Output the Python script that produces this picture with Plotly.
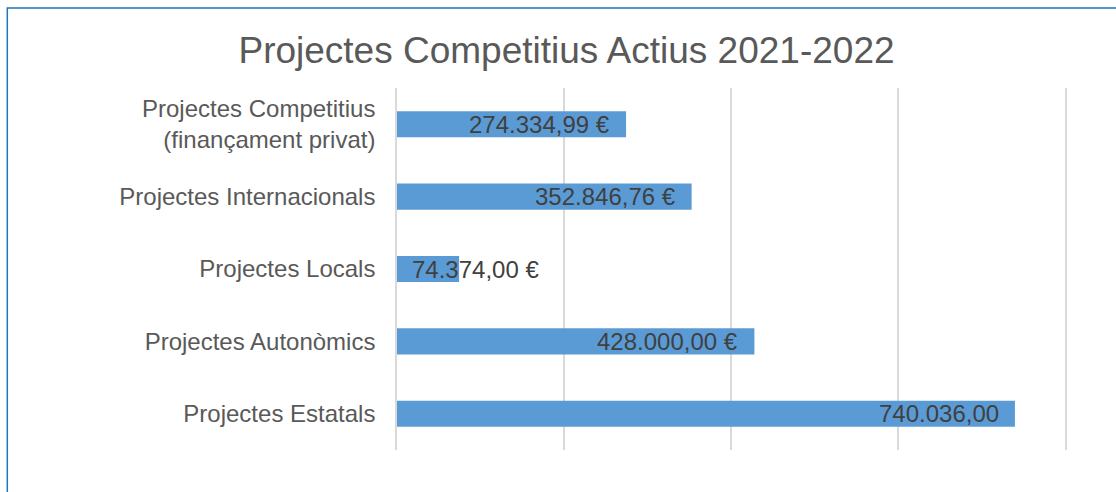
import plotly.graph_objects as go

categories = [
    "Projectes Estatals",
    "Projectes Autonòmics",
    "Projectes Locals",
    "Projectes Internacionals",
    "Projectes Competitius<br>(finançament privat)",
]
values = [740036.00, 428000.00, 74374.00, 352846.76, 274334.99]
value_labels = ["740.036,00", "428.000,00 €", "74.374,00 €", "352.846,76 €", "274.334,99 €"]
x_tickvals = [0, 200000, 400000, 600000, 800000]

BAR_COLOR = "#5B9BD5"
TEXT_GRAY = "#595959"
LABEL_GRAY = "#404040"
GRID = "#D9D9D9"
FONT = "Liberation Sans, Arial, sans-serif"

fig = go.Figure(
    go.Bar(
        y=categories,
        x=values,
        orientation="h",
        marker=dict(color=BAR_COLOR, line=dict(width=0)),
        hoverinfo="skip",
    )
)

annotations = []
for cat, v, lab in zip(categories, values, value_labels):
    if v < 150000:
        annotations.append(dict(x=0, y=cat, xref="x", yref="y", text=lab, showarrow=False,
                                xanchor="left", xshift=13,
                                font=dict(family=FONT, size=24, color=LABEL_GRAY)))
    else:
        annotations.append(dict(x=v, y=cat, xref="x", yref="y", text=lab, showarrow=False,
                                xanchor="right", xshift=-14,
                                font=dict(family=FONT, size=24, color=LABEL_GRAY)))

fig.update_layout(
    width=1116,
    height=492,
    margin=dict(l=397, r=51, t=88, b=42),
    paper_bgcolor="white",
    plot_bgcolor="white",
    bargap=0.64,
    showlegend=False,
    title=dict(
        text="Projectes Competitius Actius 2021-2022",
        x=(236 + 897) / 2 / 1116,
        xanchor="center",
        y=1 - 50 / 492,
        yanchor="middle",
        font=dict(family=FONT, size=37, color=TEXT_GRAY),
    ),
    xaxis=dict(
        range=[0, 800000],
        tickvals=x_tickvals,
        showticklabels=False,
        showgrid=True,
        gridcolor=GRID,
        gridwidth=1.5,
        zeroline=False,
        showline=False,
        fixedrange=True,
    ),
    yaxis=dict(
        showgrid=False,
        zeroline=False,
        showline=True,
        mirror=True,
        linecolor=GRID,
        linewidth=1.5,
        ticks="",
        ticklabelstandoff=15,
        tickfont=dict(family=FONT, size=24, color=TEXT_GRAY),
        fixedrange=True,
    ),
    annotations=annotations,
    shapes=[
        dict(type="rect", xref="paper", yref="paper",
             x0=(7.3 - 397) / 668, x1=1.5,
             y0=-0.5, y1=(450 - 8) / 362,
             line=dict(color="#1F74C4", width=1.5), fillcolor="rgba(0,0,0,0)", layer="below"),
    ],
)

fig.write_html(
    "out.html",
    config={"displayModeBar": False},
    post_script="document.body.style.margin='0';document.body.style.overflow='hidden';",
)
